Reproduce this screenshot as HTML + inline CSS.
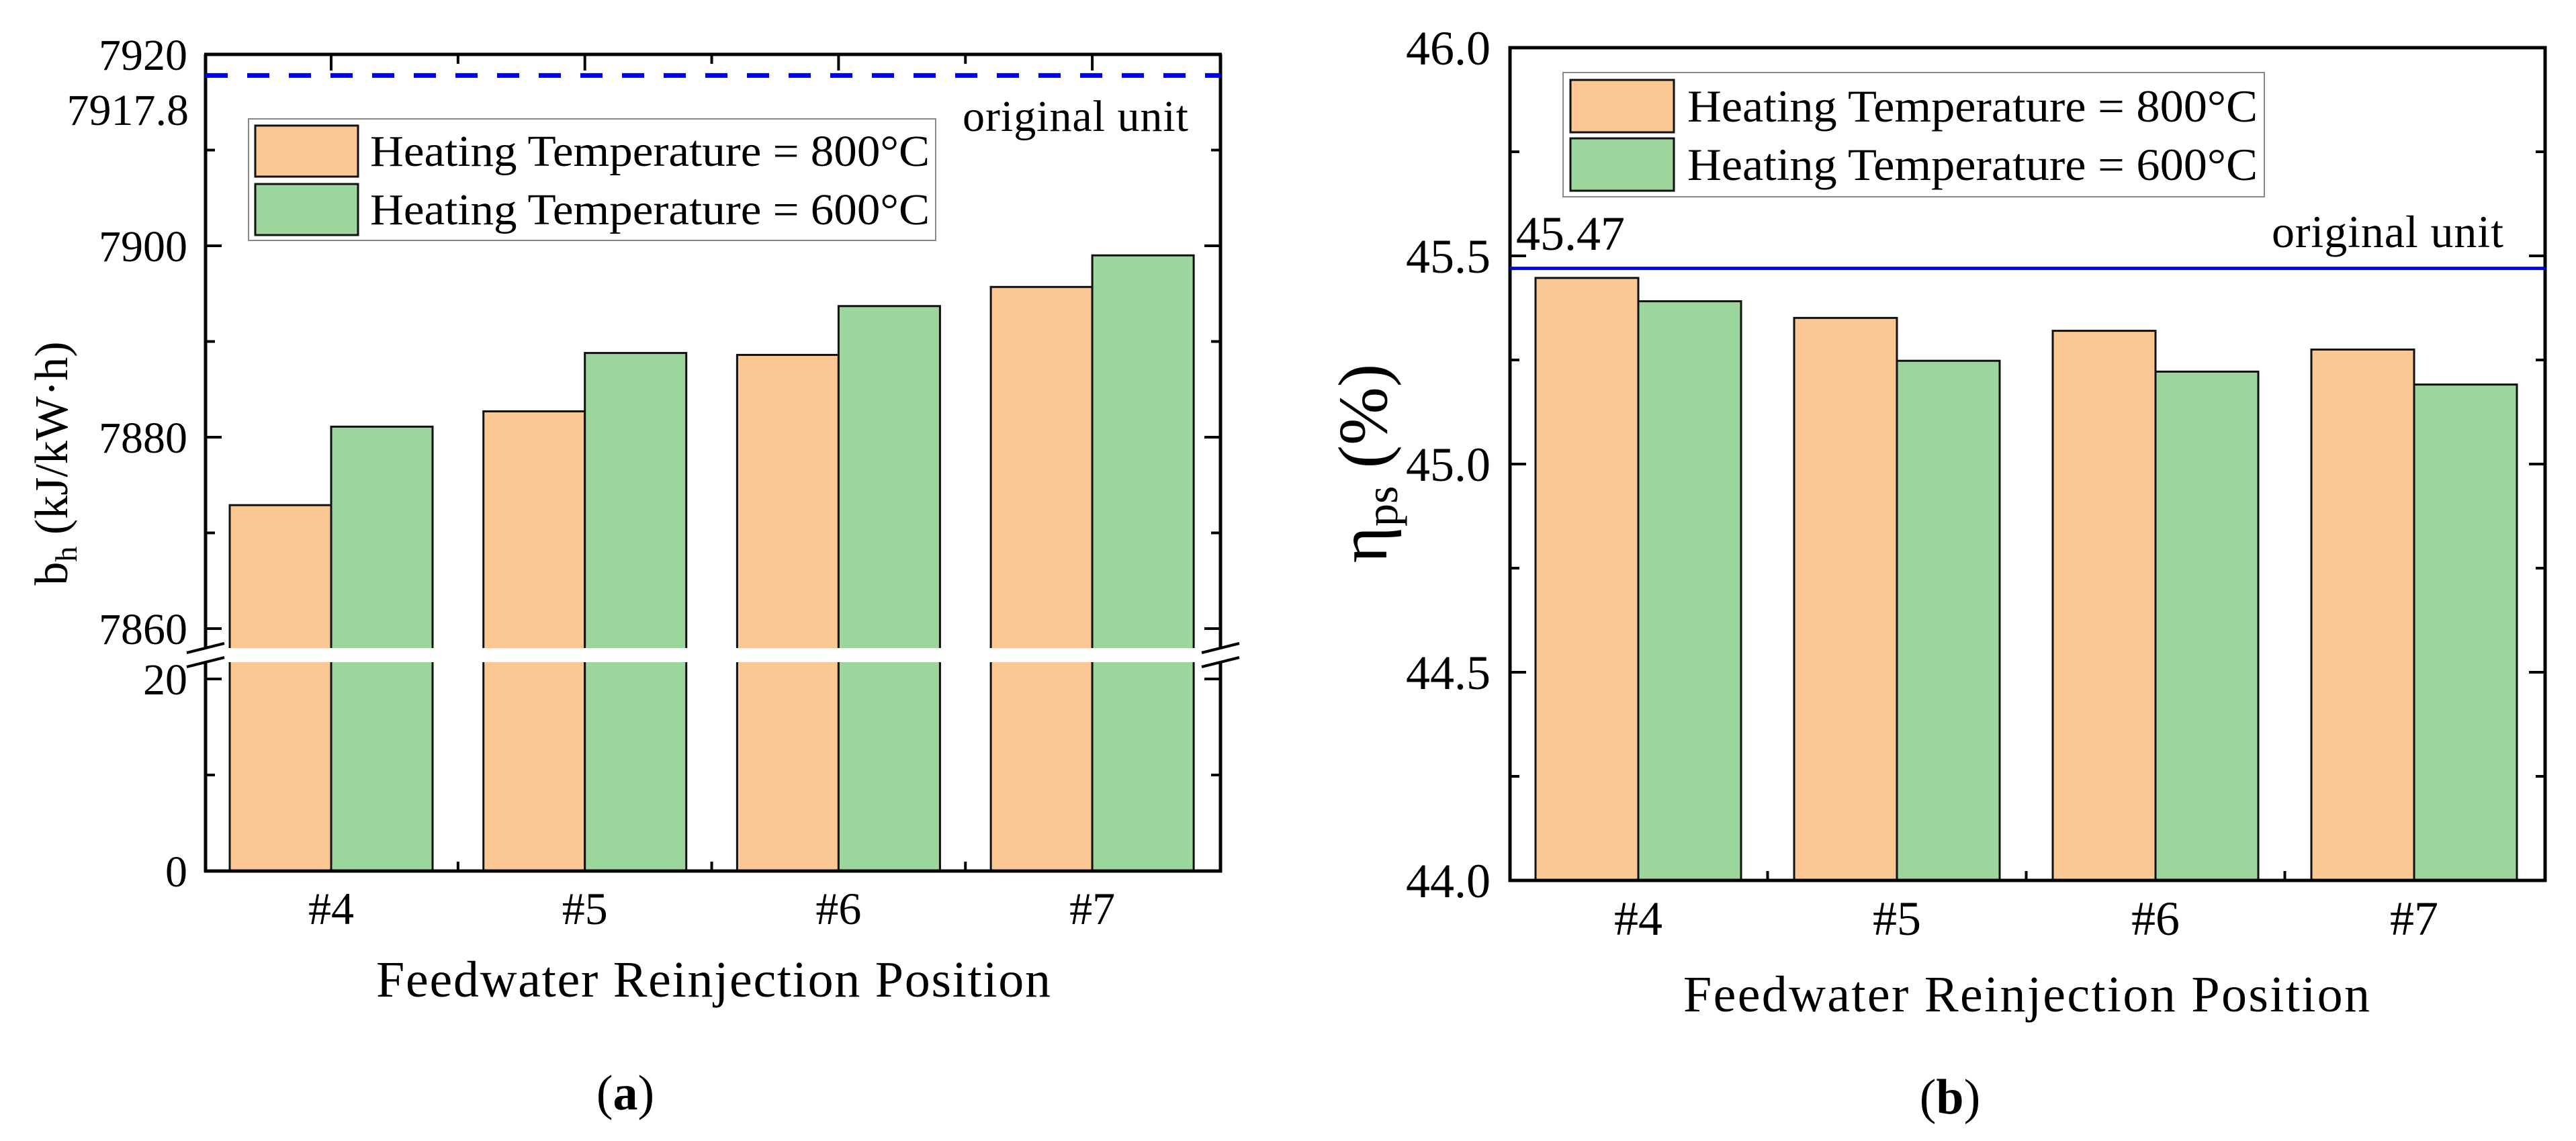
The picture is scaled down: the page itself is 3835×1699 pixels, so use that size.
<!DOCTYPE html>
<html><head><meta charset="utf-8"><style>
html,body{margin:0;padding:0;background:#fff;}
svg{display:block;font-family:"Liberation Serif","Times New Roman",serif;}
</style></head><body>
<svg id="fig" width="3835" height="1699" viewBox="0 0 3835 1699"></svg>
<script>
const categories = ["#4","#5","#6","#7"];
const seriesNames = ["Heating Temperature = 800°C","Heating Temperature = 600°C"];
const bh800 = [7872.9, 7882.7, 7888.6, 7895.7];
const bh600 = [7881.1, 7888.8, 7893.7, 7899.0];
const bhOriginal = 7917.8;
const bhUpperTicks = [7860, 7880, 7900, 7920];
const bhUpperMinor = [7870, 7890, 7910];
const bhLowerTicks = [0, 20];
const bhLowerMinor = [10];
const eta800 = [45.447, 45.351, 45.320, 45.275];
const eta600 = [45.391, 45.248, 45.222, 45.191];
const etaOriginal = 45.47;
const etaTicks = [44.0, 44.5, 45.0, 45.5, 46.0];
const etaMinor = [44.25, 44.75, 45.25, 45.75];

const NS="http://www.w3.org/2000/svg";
const svg=document.getElementById('fig');
function mk(tag,attrs,parent){const e=document.createElementNS(NS,tag);for(const k in attrs)e.setAttribute(k,attrs[k]);(parent||svg).appendChild(e);return e;}
const C800="#FBC894", C600="#9DD69C";

// ---------- Chart A ----------
const A={L:306,R:1817,T:81,B:1297};
const yAup=v=>81+(7920-v)*14.25;
const yAlo=v=>1297-v*14.3;
const xA=i=>493+i*377.7;
const gA=mk('g',{});  
const bwA=151;
for(let i=0;i<categories.length;i++){
  [[bh800,C800,-1,'800'],[bh600,C600,0,'600']].forEach(([arr,col,off,nm])=>{
    const x=xA(i)+off*bwA, y=yAup(arr[i]);
    const r=mk('rect',{x:x,y:y,width:bwA,height:1297-y,fill:col,stroke:'#111','stroke-width':3},gA);
    
    
  });
}
// break band
const brk=mk('rect',{x:A.L-30,y:965,width:A.R-A.L+60,height:21,fill:'#fff'},gA);
 
// axes (split)
mk('line',{x1:A.L,y1:A.T,x2:A.L,y2:965,stroke:'#000','stroke-width':5},gA);
mk('line',{x1:A.L,y1:986,x2:A.L,y2:A.B+2,stroke:'#000','stroke-width':5},gA);
mk('line',{x1:A.R,y1:A.T,x2:A.R,y2:965,stroke:'#000','stroke-width':5},gA);
mk('line',{x1:A.R,y1:986,x2:A.R,y2:A.B+2,stroke:'#000','stroke-width':5},gA);
mk('line',{x1:A.L-2,y1:A.T,x2:A.R+2,y2:A.T,stroke:'#000','stroke-width':5},gA);
mk('line',{x1:A.L-2,y1:A.B,x2:A.R+2,y2:A.B,stroke:'#000','stroke-width':5},gA);
[[A.L],[A.R]].forEach(([x])=>{
  mk('line',{x1:x-28,y1:972,x2:x+28,y2:958,stroke:'#000','stroke-width':4},gA);
  mk('line',{x1:x-28,y1:993,x2:x+28,y2:979,stroke:'#000','stroke-width':4},gA);
});
// ticks
bhUpperTicks.forEach(v=>{const y=yAup(v);
  mk('line',{x1:A.L,y1:y,x2:A.L+24,y2:y,stroke:'#000','stroke-width':4},gA);
  mk('line',{x1:A.R,y1:y,x2:A.R-24,y2:y,stroke:'#000','stroke-width':4},gA);
  const t=mk('text',{x:279,y:y+23,'text-anchor':'end','font-size':66},gA);t.textContent=v;
   });
bhUpperMinor.forEach(v=>{const y=yAup(v);
  mk('line',{x1:A.L,y1:y,x2:A.L+14,y2:y,stroke:'#000','stroke-width':4},gA);
  mk('line',{x1:A.R,y1:y,x2:A.R-14,y2:y,stroke:'#000','stroke-width':4},gA);});
bhLowerTicks.forEach(v=>{const y=yAlo(v);
  mk('line',{x1:A.L,y1:y,x2:A.L+24,y2:y,stroke:'#000','stroke-width':4},gA);
  mk('line',{x1:A.R,y1:y,x2:A.R-24,y2:y,stroke:'#000','stroke-width':4},gA);
  const t=mk('text',{x:279,y:y+23,'text-anchor':'end','font-size':66},gA);t.textContent=v;
   });
bhLowerMinor.forEach(v=>{const y=yAlo(v);
  mk('line',{x1:A.L,y1:y,x2:A.L+14,y2:y,stroke:'#000','stroke-width':4},gA);
  mk('line',{x1:A.R,y1:y,x2:A.R-14,y2:y,stroke:'#000','stroke-width':4},gA);});
const t78=mk('text',{x:281,y:186,'text-anchor':'end','font-size':66},gA);t78.textContent=String(bhOriginal);
 
for(let i=0;i<categories.length;i++){
  const x=xA(i);
  mk('line',{x1:x,y1:A.T,x2:x,y2:A.T+24,stroke:'#000','stroke-width':4},gA);
  if(i<categories.length-1){const xb=x+377.7/2;
    mk('line',{x1:xb,y1:A.B,x2:xb,y2:A.B-14,stroke:'#000','stroke-width':4},gA);
    mk('line',{x1:xb,y1:A.T,x2:xb,y2:A.T+14,stroke:'#000','stroke-width':4},gA);}
  const t=mk('text',{x:x,y:1376,'text-anchor':'middle','font-size':68},gA);t.textContent=categories[i];
   
}
const dl=mk('line',{x1:A.L,y1:yAup(bhOriginal),x2:A.R,y2:yAup(bhOriginal),stroke:'#0000F0','stroke-width':7,'stroke-dasharray':'33 29'},gA);
 
const ouA=mk('text',{x:1433,y:195,'font-size':66,textLength:336},gA);ouA.textContent='original unit';
 
// legend A
const lgA=mk('g',{},gA);  
mk('rect',{x:370,y:177,width:1023,height:181,fill:'#fff',stroke:'#888','stroke-width':2},lgA);
[[C800,187,seriesNames[0]],[C600,274,seriesNames[1]]].forEach(([c,y,n],k)=>{
  const s=mk('rect',{x:380,y:y,width:153,height:76,fill:c,stroke:'#111','stroke-width':3},lgA);
   
  const t=mk('text',{x:551,y:y+60,'font-size':66,textLength:833,lengthAdjust:'spacingAndGlyphs'},lgA);t.textContent=n;
   
});
const ytA=mk('text',{transform:'translate(100,690) rotate(-90)','text-anchor':'middle','font-size':70},gA);
ytA.innerHTML='b<tspan font-size="46" dy="14">h</tspan><tspan dy="-14"> (kJ/kW·h)</tspan>';
 
const xtA=mk('text',{x:1062,y:1484,'text-anchor':'middle','font-size':76,textLength:1004},gA);xtA.textContent='Feedwater Reinjection Position';
 
const capA=mk('text',{x:931,y:1652,'text-anchor':'middle','font-size':74},gA);capA.innerHTML='(<tspan font-weight="bold">a</tspan>)';
 

// ---------- Chart B ----------
const B={L:2248,R:3789,T:71,B:1311};
const yB=v=>71+(46-v)*620;
const xB=i=>2439+i*385;
const gB=mk('g',{});  
const bwB=153;
for(let i=0;i<categories.length;i++){
  [[eta800,C800,-1,'800'],[eta600,C600,0,'600']].forEach(([arr,col,off,nm])=>{
    const x=xB(i)+off*bwB, y=yB(arr[i]);
    const r=mk('rect',{x:x,y:y,width:bwB,height:B.B-y,fill:col,stroke:'#111','stroke-width':3},gB);
    
    
  });
}
mk('rect',{x:B.L,y:B.T,width:B.R-B.L,height:B.B-B.T,fill:'none',stroke:'#000','stroke-width':5},gB);
etaTicks.forEach(v=>{const y=yB(v);
  mk('line',{x1:B.L,y1:y,x2:B.L+24,y2:y,stroke:'#000','stroke-width':4},gB);
  mk('line',{x1:B.R,y1:y,x2:B.R-24,y2:y,stroke:'#000','stroke-width':4},gB);
  const t=mk('text',{x:2219,y:y+25,'text-anchor':'end','font-size':72},gB);t.textContent=v.toFixed(1);
   });
etaMinor.forEach(v=>{const y=yB(v);
  mk('line',{x1:B.L,y1:y,x2:B.L+14,y2:y,stroke:'#000','stroke-width':4},gB);
  mk('line',{x1:B.R,y1:y,x2:B.R-14,y2:y,stroke:'#000','stroke-width':4},gB);});
for(let i=0;i<categories.length;i++){
  const x=xB(i);
  if(i<categories.length-1){const xb=x+385/2;
    mk('line',{x1:xb,y1:B.B,x2:xb,y2:B.B-14,stroke:'#000','stroke-width':4},gB);}
  const t=mk('text',{x:x,y:1392,'text-anchor':'middle','font-size':72},gB);t.textContent=categories[i];
   
}
const ol=mk('line',{x1:B.L,y1:yB(etaOriginal),x2:B.R,y2:yB(etaOriginal),stroke:'#0000F0','stroke-width':5},gB);
 
const v47=mk('text',{x:2257,y:372,'font-size':72},gB);v47.textContent=String(etaOriginal);
 
const ouB=mk('text',{x:3727,y:368,'text-anchor':'end','font-size':68,textLength:345},gB);ouB.textContent='original unit';
 
const lgB=mk('g',{},gB);  
mk('rect',{x:2327,y:108,width:1044,height:185,fill:'#fff',stroke:'#888','stroke-width':2},lgB);
[[C800,119,seriesNames[0]],[C600,206,seriesNames[1]]].forEach(([c,y,n])=>{
  const s=mk('rect',{x:2338,y:y,width:154,height:78,fill:c,stroke:'#111','stroke-width':3},lgB);
   
  const t=mk('text',{x:2512,y:y+62,'font-size':68,textLength:849,lengthAdjust:'spacingAndGlyphs'},lgB);t.textContent=n;
   
});
const ytB=mk('text',{transform:'translate(2064,690) rotate(-90)','text-anchor':'middle','font-size':104},gB);
ytB.innerHTML='η<tspan font-size="68" dy="16">ps</tspan><tspan dy="-16"> (%)</tspan>';
 
const xtB=mk('text',{x:3017,y:1506,'text-anchor':'middle','font-size':76,textLength:1022},gB);xtB.textContent='Feedwater Reinjection Position';
 
const capB=mk('text',{x:2903,y:1658,'text-anchor':'middle','font-size':74},gB);capB.innerHTML='(<tspan font-weight="bold">b</tspan>)';
 
</script>
</body></html>
